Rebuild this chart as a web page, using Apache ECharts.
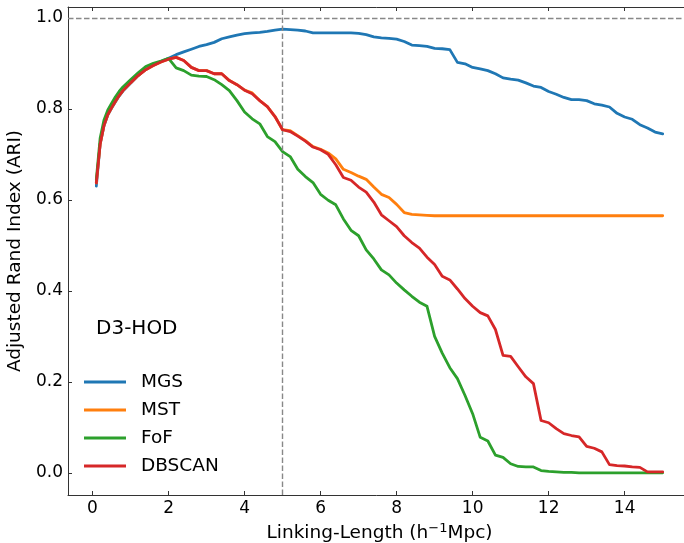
<!DOCTYPE html>
<html>
<head>
<meta charset="utf-8">
<script src="https://cdn.jsdelivr.net/npm/echarts@6/dist/echarts.min.js"></script>
<style>
html,body{margin:0;padding:0;background:#fff;}
#chart{width:684px;height:543px;}
</style>
</head>
<body>
<div id="chart"></div>
<script>
// ---- data ----
const xs = [0.1,0.2,0.3,0.4,0.5,0.6,0.7,0.8,1.0,1.2,1.4,1.6,1.8,2.0,2.2,2.4,2.6,2.8,3.0,3.2,3.4,3.6,3.8,4.0,4.2,4.4,4.6,4.8,5.0,5.2,5.4,5.6,5.8,6.0,6.2,6.4,6.6,6.8,7.0,7.2,7.4,7.6,7.8,8.0,8.2,8.4,8.6,8.8,9.0,9.2,9.4,9.6,9.8,10.0,10.2,10.4,10.6,10.8,11.0,11.2,11.4,11.6,11.8,12.0,12.2,12.4,12.6,12.8,13.0,13.2,13.4,13.6,13.8,14.0,14.2,14.4,14.6,14.8,15.0];

const mgs = [0.630,0.722,0.762,0.786,0.801,0.815,0.828,0.839,0.856,0.873,0.887,0.896,0.904,0.911,0.919,0.925,0.931,0.937,0.941,0.946,0.954,0.958,0.962,0.965,0.967,0.968,0.970,0.973,0.975,0.974,0.973,0.971,0.967,0.967,0.967,0.967,0.967,0.967,0.966,0.963,0.958,0.956,0.955,0.953,0.948,0.940,0.939,0.937,0.933,0.932,0.930,0.902,0.899,0.891,0.888,0.884,0.877,0.868,0.865,0.863,0.857,0.850,0.847,0.838,0.832,0.825,0.820,0.820,0.818,0.811,0.808,0.804,0.790,0.782,0.777,0.765,0.758,0.749,0.745];

const mst = [0.637,0.722,0.763,0.787,0.802,0.816,0.829,0.840,0.857,0.873,0.886,0.895,0.903,0.909,0.913,0.906,0.891,0.884,0.884,0.877,0.877,0.862,0.853,0.841,0.835,0.818,0.805,0.783,0.754,0.752,0.741,0.730,0.717,0.711,0.703,0.690,0.667,0.660,0.652,0.645,0.628,0.612,0.605,0.590,0.572,0.568,0.567,0.566,0.565,0.565,0.565,0.565,0.565,0.565,0.565,0.565,0.565,0.565,0.565,0.565,0.565,0.565,0.565,0.565,0.565,0.565,0.565,0.565,0.565,0.565,0.565,0.565,0.565,0.565,0.565,0.565,0.565,0.565,0.565];

const fof = [0.645,0.735,0.775,0.797,0.812,0.826,0.838,0.848,0.864,0.879,0.893,0.900,0.905,0.911,0.890,0.884,0.874,0.872,0.871,0.864,0.853,0.840,0.818,0.793,0.778,0.767,0.739,0.728,0.706,0.695,0.667,0.651,0.638,0.612,0.599,0.589,0.558,0.533,0.521,0.490,0.470,0.446,0.435,0.417,0.402,0.388,0.375,0.366,0.300,0.263,0.231,0.207,0.170,0.130,0.078,0.070,0.039,0.034,0.020,0.014,0.013,0.013,0.005,0.003,0.002,0.001,0.001,0.000,0.000,0.000,0.000,0.000,0.000,0.000,0.000,0.000,0.000,0.000,0.000];

const dbscan = [0.637,0.722,0.763,0.787,0.802,0.816,0.829,0.840,0.857,0.873,0.886,0.895,0.903,0.909,0.913,0.906,0.891,0.884,0.884,0.877,0.877,0.862,0.853,0.841,0.833,0.818,0.805,0.783,0.754,0.750,0.740,0.729,0.716,0.710,0.700,0.677,0.649,0.643,0.628,0.617,0.595,0.567,0.554,0.541,0.521,0.506,0.494,0.474,0.458,0.432,0.424,0.404,0.383,0.366,0.352,0.345,0.315,0.258,0.256,0.233,0.211,0.196,0.115,0.110,0.097,0.086,0.082,0.079,0.058,0.054,0.046,0.018,0.016,0.015,0.013,0.012,0.002,0.002,0.002];

const seriesNames = ['MGS','MST','FoF','DBSCAN'];
const seriesColors = ['#1f77b4','#ff7f0e','#2ca02c','#d62728'];
const xTicks = [0,2,4,6,8,10,12,14];
const yTicks = [0.0,0.2,0.4,0.6,0.8,1.0];
const refX = 5;
const refY = 1.0;
const panelLabel = 'D3-HOD';

// ---- chart ----
const FONT = 'DejaVu Sans';
const values = [mgs, mst, fof, dbscan];
const xMin = 0.1 - 0.05 * (15 - 0.1), xMax = 15 + 0.05 * (15 - 0.1);
const yDataMax = Math.max(...mgs), yDataMin = 0;
const yMin = yDataMin - 0.05 * (yDataMax - yDataMin), yMax = yDataMax + 0.05 * (yDataMax - yDataMin);

const axisLine = {show: true, onZero: false, lineStyle: {color: '#333', width: 1}};
const tickStyle = {lineStyle: {color: '#333', width: 1}};

const chart = echarts.init(document.getElementById('chart'), null, {renderer: 'canvas'});
chart.setOption({
  animation: false,
  backgroundColor: '#fff',
  textStyle: {fontFamily: FONT},
  title: {
    text: panelLabel, left: 96, top: 319, padding: 0,
    textStyle: {fontFamily: FONT, fontSize: 20, fontWeight: 'normal', color: '#000'}
  },
  legend: {
    orient: 'vertical', left: 84, top: 371, padding: 0, itemGap: 6,
    icon: 'rect', itemWidth: 42, itemHeight: 3,
    data: seriesNames,
    textStyle: {fontFamily: FONT, fontSize: 18.5, color: '#000', padding: [0, 0, 0, 10], lineHeight: 22}
  },
  grid: {left: 68, right: -7, top: 7, bottom: 48, containLabel: false, outerBoundsMode: 'none'},
  xAxis: [{
    type: 'value', min: xMin, max: xMax, position: 'bottom',
    axisLine: axisLine, splitLine: {show: false},
    axisTick: Object.assign({show: true, inside: true, length: 4, customValues: xTicks}, tickStyle),
    axisLabel: {customValues: xTicks, margin: 5, fontFamily: FONT, fontSize: 17, color: '#000',
      formatter: v => String(v)},
    name: '{a|Linking-Length (h}{s|−1}{a|Mpc)}', nameLocation: 'middle', nameGap: 20,
    nameTextStyle: {rich: {
      a: {fontFamily: FONT, fontSize: 18.5, color: '#000'},
      s: {fontFamily: FONT, fontSize: 13, color: '#000', padding: [0, 0, 9, 0]}
    }}
  }, {
    type: 'value', min: xMin, max: xMax, position: 'top',
    axisLine: axisLine, splitLine: {show: false},
    axisTick: Object.assign({show: true, inside: true, length: 4, customValues: xTicks}, tickStyle),
    axisLabel: {show: false}
  }],
  yAxis: [{
    type: 'value', min: yMin, max: yMax, position: 'left',
    axisLine: axisLine, splitLine: {show: false},
    axisTick: Object.assign({show: true, inside: true, length: 4, customValues: yTicks}, tickStyle),
    axisLabel: {customValues: yTicks, margin: 5, fontFamily: FONT, fontSize: 17, color: '#000',
      formatter: v => v.toFixed(1)},
    name: 'Adjusted Rand Index (ARI)', nameLocation: 'middle', nameGap: 39,
    nameTextStyle: {fontFamily: FONT, fontSize: 18.5, color: '#000'}
  }, {
    type: 'value', min: yMin, max: yMax, position: 'right',
    axisLine: axisLine, splitLine: {show: false},
    axisTick: Object.assign({show: true, inside: true, length: 4, customValues: yTicks}, tickStyle),
    axisLabel: {show: false}
  }],
  series: seriesNames.map((name, i) => ({
    name: name, type: 'line', xAxisIndex: 0, yAxisIndex: 0,
    data: xs.map((x, j) => [x, values[i][j]]),
    symbol: 'none', showSymbol: false,
    color: seriesColors[i],
    lineStyle: {width: 2.8, color: seriesColors[i], join: 'round', cap: 'round'},
    z: 2 + i,
    markLine: i === 0 ? {
      silent: true, symbol: 'none', label: {show: false},
      lineStyle: {color: '#888', width: 1.4, type: [5.5, 2.5]},
      data: [{xAxis: refX}, {yAxis: refY}]
    } : undefined
  }))
});
</script>
</body>
</html>
